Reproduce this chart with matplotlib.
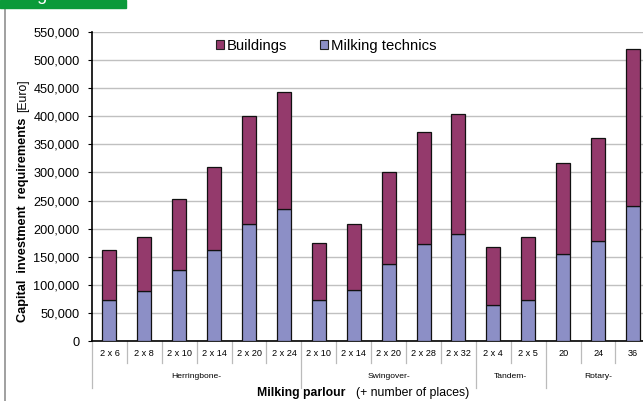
import matplotlib
matplotlib.use("Agg")
import matplotlib.pyplot as plt
from matplotlib.patches import Patch, Rectangle
from matplotlib.lines import Line2D
from matplotlib.ticker import FuncFormatter
import matplotlib.transforms as mtransforms

plt.rcParams['font.family'] = ['Liberation Sans', 'DejaVu Sans']

categories = ["2 x 6", "2 x 8", "2 x 10", "2 x 14", "2 x 20", "2 x 24",
              "2 x 10", "2 x 14", "2 x 20", "2 x 28", "2 x 32",
              "2 x 4", "2 x 5",
              "20", "24", "36"]
groups = ["Herringbone-", "Swingover-", "Tandem-", "Rotary-"]
group_sizes = [6, 5, 2, 3]
milking = [73700, 89700, 125800, 161400, 207700, 234300,
           72400, 90900, 137200, 173300, 191100,
           63500, 73700,
           155000, 177400, 240400]
total = [162000, 185200, 252800, 310300, 401000, 443000,
         174500, 207700, 300200, 372600, 404100,
         166700, 185200,
         316200, 361400, 519800]
buildings = [t - m for t, m in zip(total, milking)]

W, H = 643, 401
fig = plt.figure(figsize=(W / 100, H / 100), dpi=100)

ax_left, ax_bottom_px, ax_top_px = 92, 341, 32
ax_w = 16 * 34.9
ax = fig.add_axes([ax_left / W, (H - ax_bottom_px) / H, ax_w / W, (ax_bottom_px - ax_top_px) / H])

c_build = '#943A6C'
c_milk = '#8C8FC6'
x = list(range(len(categories)))
ax.bar(x, milking, width=0.4, color=c_milk, edgecolor='#111111', linewidth=0.9, zorder=3)
ax.bar(x, buildings, bottom=milking, width=0.4, color=c_build, edgecolor='#111111', linewidth=0.9, zorder=3)

ax.set_xlim(-0.5, 15.5)
ax.set_ylim(0, 550000)
ax.set_yticks(range(0, 550001, 50000))
ax.yaxis.set_major_formatter(FuncFormatter(lambda v, p: f"{int(v):,}"))
ax.tick_params(axis='y', labelsize=9.2, length=3, width=0.8, pad=6, colors='black')
ax.set_xticks([])
ax.grid(axis='y', color='#C0C0C0', linewidth=1, zorder=0)
for s in ['top', 'right']:
    ax.spines[s].set_visible(False)
ax.spines['left'].set_linewidth(1.2)
ax.spines['bottom'].set_linewidth(1.2)

trans = mtransforms.blended_transform_factory(ax.transData, ax.transAxes)
ph = ax_bottom_px - ax_top_px
y_short = -22 / ph
y_long = -47 / ph
y_lab = -12.5 / ph
y_grp = -35 / ph

for i, c in enumerate(categories):
    ax.text(i, y_lab, c, transform=trans, ha='center', va='center', fontsize=6.6, clip_on=False)

boundaries_long = [-0.5]
acc = -0.5
for g in group_sizes:
    acc += g
    boundaries_long.append(acc)
for b in [i - 0.5 for i in range(17)]:
    yend = y_long if b in boundaries_long else y_short
    ax.add_line(Line2D([b, b], [0, yend], transform=trans, color='#BBBBBB', linewidth=0.9, clip_on=False))

start = 0
for g, n in zip(groups, group_sizes):
    cx = start + (n - 1) / 2
    ax.text(cx, y_grp, g, transform=trans, ha='center', va='center', fontsize=6.1, clip_on=False)
    start += n

# x label
fig.text(345 / W, 1 - 393 / H, "Milking parlour", fontsize=8.8, fontweight='bold', ha='right', va='center')
fig.text(356 / W, 1 - 393 / H, "(+ number of places)", fontsize=8.8, ha='left', va='center')

# y label
fig.text(23 / W, 1 - 322 / H, "Capital  investment  requirements", fontsize=9.2, fontweight='bold',
         rotation=90, ha='center', va='bottom')
fig.text(23 / W, 1 - 112 / H, "[Euro]", fontsize=8.8, rotation=90, ha='center', va='bottom')

# legend
handles = [Patch(facecolor=c_build, edgecolor='#222222', linewidth=0.8, label='Buildings'),
           Patch(facecolor=c_milk, edgecolor='#222222', linewidth=0.8, label='Milking technics')]
fig.legend(handles=handles, loc='center', bbox_to_anchor=(326 / W, 1 - 46 / H), ncol=2, frameon=False,
           fontsize=10.7, handlelength=0.55, handleheight=0.55, handletextpad=0.2, columnspacing=2.2,
           borderaxespad=0, borderpad=0)

# header green box and left border
fig.add_artist(Rectangle((0, 1 - 8 / H), 126 / W, 8 / H, transform=fig.transFigure, color='#0B9A3A', zorder=5))
fig.text(22 / W, 1 - 0.5 / H, "Figure", color='white', fontsize=13, ha='left', va='baseline', zorder=6)
fig.add_artist(Line2D([5 / W, 5 / W], [0, 1 - 8 / H], transform=fig.transFigure, color='#909090', linewidth=1.2))

fig.savefig("out.png", dpi=100)
